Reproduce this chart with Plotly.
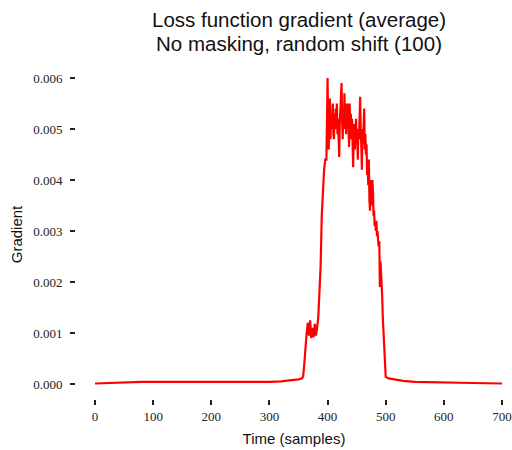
import plotly.graph_objects as go

# Time (samples) and average loss-function gradient
time_base = [0, 20, 40, 60, 80, 100, 120, 140, 160, 180, 200, 220, 240, 260, 280,
             300, 320, 340, 350, 356]
grad_base = [0.00001, 0.00002, 0.00003, 0.00003, 0.00004, 0.00004, 0.00004, 0.00003,
             0.00003, 0.00003, 0.00003, 0.00003, 0.00003, 0.00003, 0.00003, 0.00004,
             0.00005, 0.00007, 0.00009, 0.00011]

time_rise = [358, 360, 362, 364, 366, 368, 370, 372, 374, 376, 378, 380, 382, 384,
             386, 388, 390, 392, 394, 396]
grad_rise = [0.00015, 0.0004, 0.0008, 0.0010, 0.0012, 0.00095, 0.00125, 0.0009, 0.0011,
             0.00092, 0.00118, 0.00095, 0.0011, 0.0013, 0.0018, 0.0023, 0.0033, 0.0038,
             0.0042, 0.0044]

time_peak = list(range(398, 501))
grad_peak = [
    0.0044, 0.0052, 0.0060, 0.0049, 0.0046, 0.0054, 0.0056, 0.0048, 0.0053, 0.0050,
    0.0055, 0.0055, 0.0049, 0.0048, 0.0053, 0.0050, 0.0054, 0.0051, 0.0055, 0.0049,
    0.0052, 0.0047, 0.00445, 0.0051, 0.0054, 0.0057, 0.0059, 0.0052, 0.0048, 0.0054,
    0.0050, 0.0057, 0.0051, 0.0055, 0.0049, 0.0053, 0.0050, 0.0055, 0.0047, 0.00465,
    0.0055, 0.0050, 0.0053, 0.0048, 0.0052, 0.0047, 0.00425, 0.0049, 0.0051, 0.0046,
    0.0050, 0.0052, 0.0047, 0.0049, 0.0044, 0.0050, 0.0048, 0.0053, 0.00563, 0.0049,
    0.0047, 0.0042, 0.0050, 0.0047, 0.0052, 0.0054, 0.0046, 0.0049, 0.0045, 0.0047,
    0.0041, 0.0043, 0.0039, 0.0044, 0.0036, 0.0034, 0.0040, 0.0037, 0.0035, 0.0040,
    0.0038, 0.0033, 0.0034, 0.0031, 0.0032, 0.0030, 0.0032, 0.0029, 0.0030, 0.0028,
    0.0027, 0.0028, 0.0019, 0.0024, 0.0022, 0.0021, 0.0017, 0.0013, 0.0010, 0.0007,
    0.0004, 0.0002, 0.00014,
]

time_tail = [505, 510, 520, 530, 550, 580, 600, 650, 700]
grad_tail = [0.00011, 0.0001, 0.00008, 0.00006, 0.00004, 0.00003, 0.00003, 0.00002, 0.00001]

x_ticks = [0, 100, 200, 300, 400, 500, 600, 700]
y_ticks = [0.000, 0.001, 0.002, 0.003, 0.004, 0.005, 0.006]
title_lines = ["Loss function gradient (average)", "No masking, random shift (100)"]

time = time_base + time_rise + time_peak + time_tail
grad = grad_base + grad_rise + grad_peak + grad_tail

fig = go.Figure()
fig.add_trace(go.Scatter(x=time, y=grad, mode="lines",
                         line=dict(color="#ff0000", width=2.2), showlegend=False))

tick_font = dict(family="Liberation Serif, DejaVu Serif, serif", size=13, color="#222222")
label_font = dict(family="Liberation Sans, DejaVu Sans, sans-serif", size=15, color="#111111")
head_font = dict(family="Liberation Sans, DejaVu Sans, sans-serif", size=20.5, color="#111111")

# plot area: px 76..512 horizontally, px 70..399 vertically
fig.update_layout(
    width=512, height=450,
    margin=dict(l=76, r=0, t=70, b=51, autoexpand=False),
    paper_bgcolor="white", plot_bgcolor="white",
)
for line_text, y_pos in zip(title_lines, [1.152, 1.082]):
    fig.add_annotation(text=line_text, xref="paper", yref="paper", x=0.512, y=y_pos,
                       xanchor="center", yanchor="middle", showarrow=False,
                       font=head_font)

fig.update_xaxes(
    range=[-32.7, 717.2], tickvals=x_ticks, ticktext=[str(v) for v in x_ticks],
    showgrid=False, zeroline=False, showline=False, automargin=False,
    ticks="outside", ticklen=5, tickwidth=1.5, tickcolor="#222222",
    tickfont=tick_font,
    title=dict(text="Time (samples)", font=label_font, standoff=10),
)
fig.update_yaxes(
    range=[-0.000294, 0.006157], tickvals=y_ticks,
    ticktext=[f"{v:.3f}" for v in y_ticks],
    showgrid=False, zeroline=False, showline=False, automargin=False,
    ticks="outside", ticklen=5, tickwidth=1.5, tickcolor="#222222",
    tickfont=tick_font, ticklabelstandoff=5,
    title=dict(text="Gradient", font=label_font, standoff=6),
)

fig.write_html("out.html", config={"displayModeBar": False},
               post_script="document.body.style.margin='0';")
